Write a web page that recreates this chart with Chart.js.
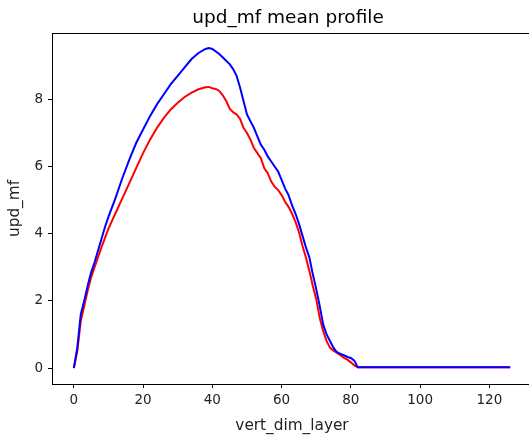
<!DOCTYPE html>
<html>
<head>
<meta charset="utf-8">
<script src="https://cdn.jsdelivr.net/npm/chart.js@4"></script>
<style>
  html, body { margin: 0; padding: 0; background: #fff; overflow: hidden; }
  canvas { display: block; }
</style>
</head>
<body>
<canvas id="profileChart" width="540" height="440" style="width:540px;height:440px"></canvas>
<script>
// layer index / mean values
const blueLayers = [0, 1, 2, 3, 4, 5, 6, 7, 8, 9, 10, 12, 14, 16, 18, 20, 22, 24, 26, 28, 30, 32, 34, 36, 38, 39, 40, 42, 44, 45, 46, 47, 48, 49, 50, 51, 52, 53, 54, 55, 56, 57, 58, 59, 60, 61, 62, 63, 64, 65, 66, 67, 68, 69, 70, 71, 72, 73, 74, 75, 76, 77, 78, 79, 80, 81, 82, 126];
const blueValues = [0, 0.6, 1.6, 2.0, 2.45, 2.85, 3.15, 3.5, 3.85, 4.2, 4.5, 5.05, 5.65, 6.2, 6.7, 7.1, 7.5, 7.85, 8.15, 8.45, 8.7, 8.95, 9.2, 9.38, 9.5, 9.53, 9.5, 9.35, 9.15, 9.05, 8.9, 8.7, 8.35, 7.95, 7.55, 7.35, 7.15, 6.9, 6.65, 6.5, 6.3, 6.15, 6.0, 5.85, 5.6, 5.35, 5.15, 4.85, 4.6, 4.3, 3.95, 3.6, 3.3, 2.8, 2.35, 1.85, 1.3, 1.0, 0.8, 0.6, 0.47, 0.42, 0.38, 0.33, 0.3, 0.22, 0.02, 0.02];

const redLayers = [0, 1, 2, 3, 4, 5, 6, 7, 8, 10, 12, 14, 16, 18, 20, 22, 24, 26, 28, 30, 32, 34, 36, 38, 39, 40, 41, 42, 43, 44, 45, 46, 47, 48, 49, 50, 51, 52, 53, 54, 55, 56, 57, 58, 59, 60, 61, 62, 63, 64, 65, 66, 67, 68, 69, 70, 71, 72, 73, 74, 75, 76, 77, 78, 79, 80, 81, 82, 126];
const redValues = [0, 0.5, 1.4, 1.85, 2.3, 2.7, 3.0, 3.3, 3.6, 4.15, 4.6, 5.05, 5.5, 5.95, 6.4, 6.8, 7.15, 7.45, 7.7, 7.9, 8.07, 8.2, 8.3, 8.36, 8.37, 8.33, 8.31, 8.25, 8.12, 7.95, 7.72, 7.62, 7.55, 7.42, 7.15, 7.0, 6.8, 6.55, 6.4, 6.25, 5.95, 5.8, 5.55, 5.4, 5.3, 5.15, 4.95, 4.8, 4.6, 4.35, 4.05, 3.65, 3.3, 2.9, 2.45, 2.05, 1.5, 1.1, 0.8, 0.6, 0.52, 0.45, 0.38, 0.3, 0.25, 0.17, 0.08, 0.02, 0.02];

const xTicks = [0, 20, 40, 60, 80, 100, 120];
const yTicks = [0, 2, 4, 6, 8];

const FONT = 'DejaVu Sans';

function toPoints(xs, ys) {
    return xs.map((x, i) => ({ x: x, y: ys[i] }));
}

// matplotlib style frame + title
const framePlugin = {
    id: 'frame',
    afterDraw(chart) {
        const { ctx, chartArea: a } = chart;
        ctx.save();
        ctx.strokeStyle = '#000';
        ctx.lineWidth = 1;
        ctx.strokeRect(a.left + 0.5, a.top + 0.5, a.right - a.left, a.bottom - a.top);
        ctx.fillStyle = '#000';
        ctx.font = '18.5px "' + FONT + '"';
        ctx.textAlign = 'center';
        ctx.textBaseline = 'middle';
        ctx.fillText('upd_mf mean profile', (a.left + a.right) / 2 - 4, 18);
        ctx.restore();
    }
};

const ctx = document.getElementById('profileChart').getContext('2d');

new Chart(ctx, {
    type: 'line',
    data: {
        datasets: [{
            label: 'blue',
            data: toPoints(blueLayers, blueValues),
            borderColor: '#0000ff',
            borderWidth: 2,
            pointRadius: 0,
            tension: 0,
            order: 0
        }, {
            label: 'red',
            data: toPoints(redLayers, redValues),
            borderColor: '#ff0000',
            borderWidth: 2,
            pointRadius: 0,
            tension: 0,
            order: 1
        }]
    },
    options: {
        responsive: false,
        animation: false,
        layout: {
            padding: { top: 33, left: 0, right: 8, bottom: 0 }
        },
        scales: {
            x: {
                type: 'linear',
                min: -6.3,
                max: 132.3,
                afterBuildTicks: scale => { scale.ticks = xTicks.map(v => ({ value: v })); },
                afterFit: scale => { scale.height = 56; },
                grid: { drawOnChartArea: false, drawTicks: true, tickLength: 4, color: '#000' },
                border: { display: false },
                ticks: {
                    color: '#222',
                    padding: 4,
                    maxRotation: 0,
                    font: { family: FONT, size: 13.5 }
                },
                title: {
                    display: true,
                    text: 'vert_dim_layer',
                    color: '#222',
                    padding: { top: 0, bottom: 5 },
                    font: { family: FONT, size: 15.3 }
                }
            },
            y: {
                min: -0.475,
                max: 9.975,
                afterBuildTicks: scale => { scale.ticks = yTicks.map(v => ({ value: v })); },
                afterFit: scale => { scale.width = 52; },
                grid: { drawOnChartArea: false, drawTicks: true, tickLength: 4, color: '#000' },
                border: { display: false },
                ticks: {
                    color: '#222',
                    padding: 5,
                    font: { family: FONT, size: 13.5 }
                },
                title: {
                    display: true,
                    text: 'upd_mf',
                    color: '#222',
                    padding: { top: 6, bottom: 0 },
                    font: { family: FONT, size: 15.3 }
                }
            }
        },
        plugins: {
            legend: { display: false },
            tooltip: { enabled: false }
        }
    },
    plugins: [framePlugin]
});
</script>
</body>
</html>
